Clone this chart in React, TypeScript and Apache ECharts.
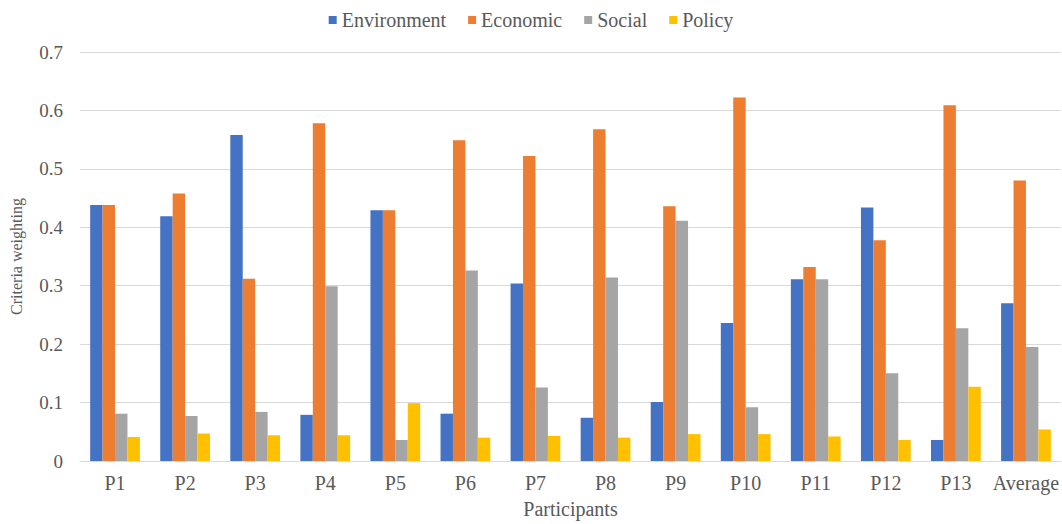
import React, { useEffect, useRef } from "react";
import * as echarts from "echarts";

const categories = ["P1", "P2", "P3", "P4", "P5", "P6", "P7", "P8", "P9", "P10", "P11", "P12", "P13", "Average"];
const environment = [0.438, 0.419, 0.558, 0.079, 0.429, 0.081, 0.304, 0.074, 0.101, 0.236, 0.311, 0.434, 0.036, 0.27];
const economic = [0.438, 0.458, 0.312, 0.578, 0.429, 0.549, 0.522, 0.568, 0.436, 0.622, 0.332, 0.378, 0.609, 0.48];
const social = [0.081, 0.077, 0.084, 0.299, 0.036, 0.326, 0.126, 0.314, 0.411, 0.092, 0.311, 0.15, 0.227, 0.195];
const policy = [0.041, 0.047, 0.044, 0.044, 0.099, 0.04, 0.043, 0.04, 0.046, 0.046, 0.042, 0.036, 0.127, 0.054];
const yTicks = [0, 0.1, 0.2, 0.3, 0.4, 0.5, 0.6, 0.7];

const FONT = "Liberation Serif";
const TEXT = "#595959";

export default function App() {
  const ref = useRef<HTMLDivElement>(null);
  useEffect(() => {
    document.body.style.margin = "0";
    if (!ref.current) return;
    const chart = echarts.init(ref.current, null, { renderer: "svg" });
    const mk = (name: string, data: number[], color: string) => ({
      name,
      type: "bar",
      data,
      itemStyle: { color },
      barGap: "0%",
      barCategoryGap: "29%",
    });
    chart.setOption({
      animation: false,
      textStyle: { fontFamily: FONT },
      legend: {
        top: 5,
        left: "center",
        icon: "rect",
        itemWidth: 8,
        itemHeight: 8,
        itemGap: 22,
        textStyle: { fontFamily: FONT, fontSize: 20, color: TEXT },
        data: ["Environment", "Economic", "Social", "Policy"],
      },
      grid: { left: 77, right: 1, top: 52, bottom: 56, containLabel: false },
      xAxis: {
        type: "category",
        data: categories,
        name: "Participants",
        nameLocation: "middle",
        nameGap: 38,
        nameTextStyle: { fontFamily: FONT, fontSize: 20, color: TEXT },
        axisLine: { lineStyle: { color: "#d9d9d9" } },
        axisTick: { show: false },
        axisLabel: { fontFamily: FONT, fontSize: 20, color: TEXT, margin: 12, interval: 0 },
      },
      yAxis: {
        type: "value",
        min: yTicks[0],
        max: yTicks[yTicks.length - 1],
        interval: 0.1,
        name: "Criteria weighting",
        nameLocation: "middle",
        nameGap: 56,
        nameRotate: 90,
        nameTextStyle: { fontFamily: FONT, fontSize: 16, color: TEXT },
        axisLine: { show: false },
        axisTick: { show: false },
        axisLabel: {
          fontFamily: FONT,
          fontSize: 19,
          color: TEXT,
          margin: 17,
          formatter: (v: number) => (v === 0 ? "0" : v.toFixed(1)),
        },
        splitLine: { lineStyle: { color: "#d9d9d9" } },
      },
      series: [
        mk("Environment", environment, "#4472C4"),
        mk("Economic", economic, "#ED7D31"),
        mk("Social", social, "#A5A5A5"),
        mk("Policy", policy, "#FFC000"),
      ],
    });
    return () => chart.dispose();
  }, []);
  return <div ref={ref} style={{ width: 1062, height: 524 }} />;
}
